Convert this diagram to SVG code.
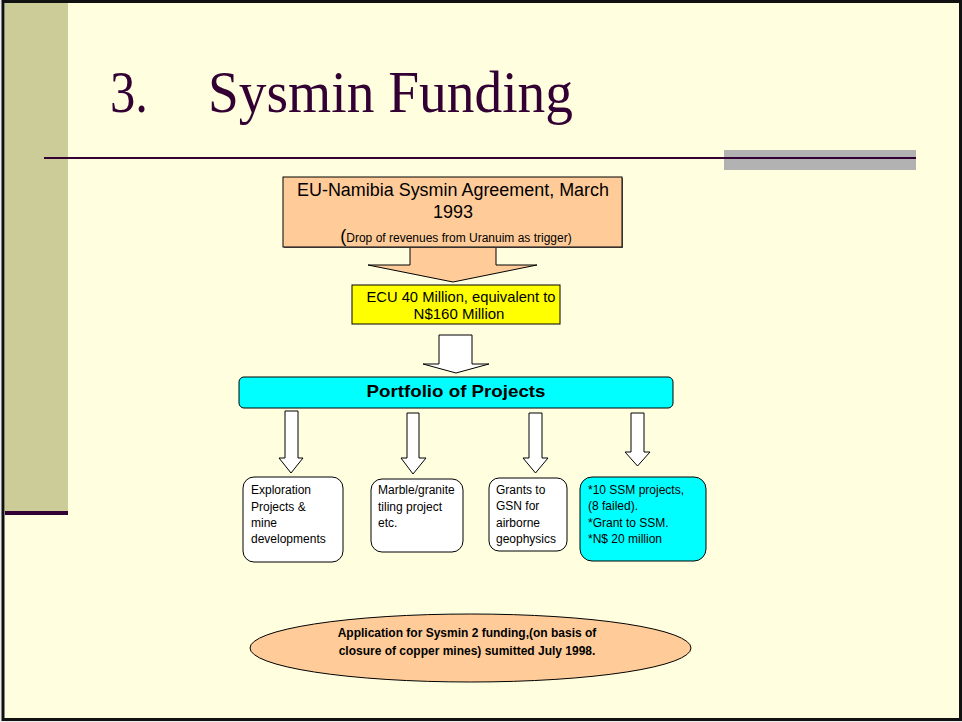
<svg xmlns="http://www.w3.org/2000/svg" width="962" height="722" viewBox="0 0 962 722">
<defs>
<style>
.sans{font-family:"Liberation Sans",Arial,sans-serif;fill:#000}
.box{stroke:#000;stroke-width:1}
.arrow{fill:#fff;stroke:#000;stroke-width:1}
.small{font-size:12px}
</style>
</defs>
<rect x="0" y="0" width="962" height="722" fill="#ECECEC"/>
<rect x="3" y="1.5" width="957.5" height="718" fill="#FFFFE0" stroke="#111" stroke-width="3"/>
<rect x="5" y="3" width="63" height="509" fill="#CCCC99"/>
<rect x="5" y="511" width="63" height="4" fill="#330033"/>
<text x="110" y="112" font-family="'Liberation Serif','Times New Roman',serif" font-size="59" fill="#330033" textLength="38" lengthAdjust="spacingAndGlyphs">3.</text>
<text x="208" y="112" font-family="'Liberation Serif','Times New Roman',serif" font-size="59" fill="#330033" textLength="365" lengthAdjust="spacingAndGlyphs">Sysmin Funding</text>
<rect x="724" y="150" width="192" height="20" fill="#B2B2B2"/>
<rect x="44" y="157" width="872" height="2" fill="#330033"/>

<g id="connectors">
<path class="arrow" d="M410,247 V265 H368 L453,282 L537,265 H496 V247" style="fill:#FFCC99"/>
<path class="arrow" d="M439,335 H472 V364 H489 L456,373 L423,364 H439 Z"/>
<path class="arrow" d="M285,411 H298 V458 H303 L291,473 L279,458 H285 Z"/>
<path class="arrow" d="M407,413 H419 V458 H426 L413,474 L401,458 H407 Z"/>
<path class="arrow" d="M529,413 H542 V458 H548 L535.5,473 L523,458 H529 Z"/>
<path class="arrow" d="M631,413 H644 V452 H650 L637.5,466 L625,452 H631 Z"/>
</g>

<g id="agreement">
<rect x="284" y="178" width="339" height="70" fill="#666"/>
<rect class="box" x="283" y="177" width="339" height="70" fill="#FFCC99"/>
<text class="sans" x="453" y="196" font-size="18" text-anchor="middle" textLength="312" lengthAdjust="spacingAndGlyphs">EU-Namibia Sysmin Agreement, March</text>
<text class="sans" x="453" y="218" font-size="18" text-anchor="middle">1993</text>
<text class="sans" x="456" y="242" text-anchor="middle"><tspan font-size="18">(</tspan><tspan font-size="12">Drop of revenues from Uranuim as trigger)</tspan></text>
</g>

<g id="ecu">
<rect class="box" x="352" y="285" width="208" height="39" fill="#FFFF00"/>
<text class="sans" x="461" y="302" font-size="15" text-anchor="middle" textLength="189" lengthAdjust="spacingAndGlyphs">ECU 40 Million, equivalent to</text>
<text class="sans" x="459" y="319" font-size="15" text-anchor="middle">N$160 Million</text>
</g>

<g id="portfolio">
<rect class="box" x="239" y="377" width="434" height="31" rx="5" fill="#00FFFF"/>
<text class="sans" x="456" y="397" font-size="17" font-weight="bold" text-anchor="middle" textLength="179" lengthAdjust="spacingAndGlyphs">Portfolio of Projects</text>
</g>

<g id="exploration">
<rect class="box" x="243" y="477" width="100" height="85" rx="11" fill="#fff"/>
<text class="sans small" x="251" y="494">Exploration</text>
<text class="sans small" x="251" y="511">Projects &amp;</text>
<text class="sans small" x="251" y="527">mine</text>
<text class="sans small" x="251" y="543">developments</text>
</g>

<g id="marble">
<rect class="box" x="371" y="479" width="92" height="73" rx="11" fill="#fff"/>
<text class="sans small" x="378" y="494">Marble/granite</text>
<text class="sans small" x="378" y="511">tiling project</text>
<text class="sans small" x="378" y="527">etc.</text>
</g>

<g id="grants">
<rect class="box" x="489" y="478" width="78" height="73" rx="10" fill="#fff"/>
<text class="sans small" x="496" y="494">Grants to</text>
<text class="sans small" x="496" y="510">GSN for</text>
<text class="sans small" x="496" y="527">airborne</text>
<text class="sans small" x="496" y="543">geophysics</text>
</g>

<g id="ssm">
<rect class="box" x="580" y="477" width="126" height="84" rx="12" fill="#00FFFF"/>
<text class="sans small" x="588" y="494">*10 SSM projects,</text>
<text class="sans small" x="588" y="510">(8 failed).</text>
<text class="sans small" x="588" y="527">*Grant to SSM.</text>
<text class="sans small" x="588" y="543">*N$ 20 million</text>
</g>

<g id="application">
<ellipse class="box" cx="470.5" cy="648" rx="220.5" ry="34" fill="#FFCC99"/>
<text class="sans" x="467" y="637" font-size="12" font-weight="bold" text-anchor="middle">Application for Sysmin 2 funding,(on basis of</text>
<text class="sans" x="467" y="655" font-size="12" font-weight="bold" text-anchor="middle">closure of copper mines) sumitted July 1998.</text>
</g>
</svg>
